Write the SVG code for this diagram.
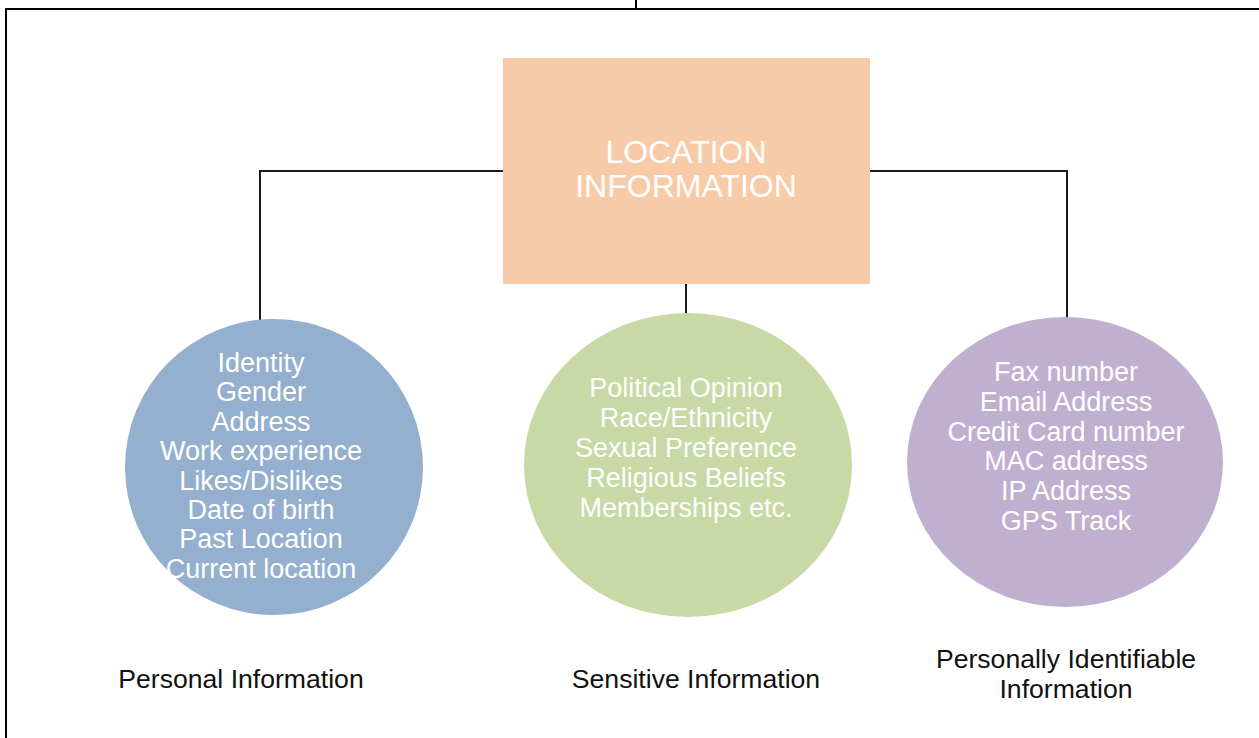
<svg xmlns="http://www.w3.org/2000/svg" width="1259" height="738" viewBox="0 0 1259 738">
  <style>
    .frame { stroke: #000; stroke-width: 2; fill: none; }
    .conn { stroke: #1a1a1a; stroke-width: 2; fill: none; }
    .title { font-family: "Liberation Sans", Arial, sans-serif; font-size: 32px; fill: #ffffff; text-anchor: middle; }
    .item { font-family: "Liberation Sans", Arial, sans-serif; font-size: 27px; fill: #ffffff; text-anchor: middle; }
    .label { font-family: "Liberation Sans", Arial, sans-serif; font-size: 26.6px; fill: #111111; text-anchor: middle; }
  </style>
  <rect width="1259" height="738" fill="#ffffff"/>

  <!-- page frame -->
  <g id="frame">
    <path class="frame" d="M6 738 V9 H1259"/>
    <path class="frame" d="M636 0 V9"/>
  </g>

  <!-- connectors -->
  <g id="connectors">
    <path class="conn" d="M503 171 H260 V320"/>
    <path class="conn" d="M870 171 H1067 V320"/>
    <path class="conn" d="M686 284 V315"/>
  </g>

  <g id="location-information">
    <rect x="503" y="58" width="367" height="226" fill="#F8CBA8"/>
    <text class="title" x="686" y="163">LOCATION</text>
    <text class="title" x="686" y="197">INFORMATION</text>
  </g>

  <g id="personal-information">
    <ellipse cx="274" cy="467" rx="149" ry="148" fill="#95AFCE"/>
    <text class="item" x="261" y="372">Identity</text>
    <text class="item" x="261" y="401.4">Gender</text>
    <text class="item" x="261" y="430.8">Address</text>
    <text class="item" x="261" y="460.2">Work experience</text>
    <text class="item" x="261" y="489.6">Likes/Dislikes</text>
    <text class="item" x="261" y="519">Date of birth</text>
    <text class="item" x="261" y="548.4">Past Location</text>
    <text class="item" x="261" y="577.8">Current location</text>
    <text class="label" x="241" y="688">Personal Information</text>
  </g>

  <g id="sensitive-information">
    <ellipse cx="688" cy="465" rx="164" ry="152" fill="#C9D9A6"/>
    <text class="item" x="686" y="397">Political Opinion</text>
    <text class="item" x="686" y="427">Race/Ethnicity</text>
    <text class="item" x="686" y="457">Sexual Preference</text>
    <text class="item" x="686" y="487">Religious Beliefs</text>
    <text class="item" x="686" y="517">Memberships etc.</text>
    <text class="label" x="696" y="688">Sensitive Information</text>
  </g>

  <g id="personally-identifiable-information">
    <ellipse cx="1065" cy="462" rx="158" ry="145" fill="#BFB0D0"/>
    <text class="item" x="1066" y="381">Fax number</text>
    <text class="item" x="1066" y="410.8">Email Address</text>
    <text class="item" x="1066" y="440.6">Credit Card number</text>
    <text class="item" x="1066" y="470.4">MAC address</text>
    <text class="item" x="1066" y="500.2">IP Address</text>
    <text class="item" x="1066" y="530">GPS Track</text>
    <text class="label" x="1066" y="668">Personally Identifiable</text>
    <text class="label" x="1066" y="698">Information</text>
  </g>
</svg>
